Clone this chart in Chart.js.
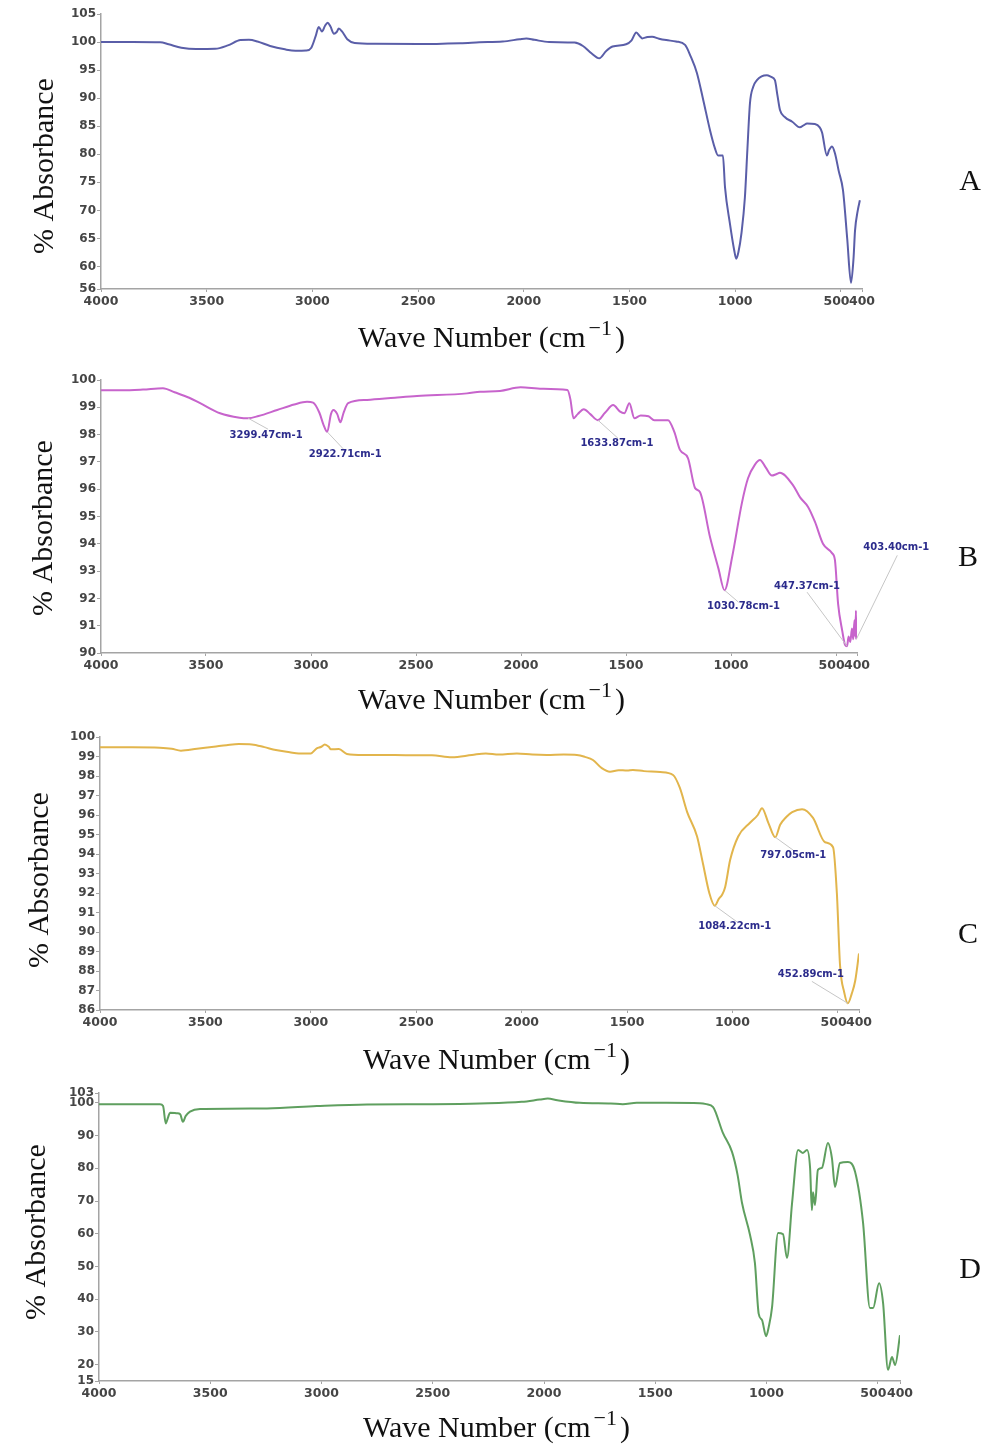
<!DOCTYPE html>
<html>
<head>
<meta charset="utf-8">
<title>FTIR spectra</title>
<script src="https://cdn.jsdelivr.net/npm/chart.js@4.4.0/dist/chart.umd.min.js"></script>
<style>
  body { margin: 0; background: #fff; }
  #wrap { position: relative; width: 998px; height: 1448px; }
  #wrap canvas { position: absolute; left: 0; }
</style>
</head>
<body>
<div id="wrap">
  <canvas id="ftirA" width="998" height="360" style="top:0px"></canvas>
  <canvas id="ftirB" width="998" height="360" style="top:360px"></canvas>
  <canvas id="ftirC" width="998" height="370" style="top:720px"></canvas>
  <canvas id="ftirD" width="998" height="378" style="top:1070px"></canvas>
</div>
<script>
// wavenumber ticks (cm-1), same for every spectrum
var waveTicks = [4000, 3500, 3000, 2500, 2000, 1500, 1000, 500, 400];

// --- spectrum A ---
var waveA = [4000, 3850, 3720, 3680, 3620, 3550, 3460, 3400, 3340, 3300, 3260, 3200, 3130, 3080, 3030, 3005,
  2985, 2970, 2955, 2940, 2928, 2915, 2898, 2885, 2875, 2860, 2835, 2800, 2700, 2500, 2300, 2210, 2100, 2020,
  1988, 1950, 1880, 1760, 1720, 1680, 1643, 1610, 1580, 1516, 1490, 1468, 1450, 1440, 1415, 1393, 1360, 1326,
  1280, 1237, 1210, 1181, 1150, 1119, 1096, 1081, 1058, 1048, 1025, 1005, 995, 985, 970, 954, 942, 930, 915,
  897, 875, 850, 830, 812, 800, 788, 764, 730, 694, 675, 660, 623, 600, 589, 566, 555, 542, 528, 510, 490, 470,
  452, 440, 433, 420, 410];
var absA = [100.0, 100.0, 99.95, 99.6, 99.0, 98.75, 98.8, 99.4, 100.35, 100.4, 100.1, 99.3, 98.7, 98.45, 98.5, 99.0,
  101.0, 102.7, 101.9, 102.9, 103.45, 102.8, 101.5, 101.8, 102.4, 101.9, 100.5, 99.85, 99.7, 99.65, 99.8, 99.95, 100.1, 100.5,
  100.65, 100.4, 100.0, 99.9, 99.3, 98.0, 97.1, 98.4, 99.2, 99.6, 100.3, 101.7, 101.0, 100.65, 100.9, 100.95, 100.6, 100.35,
  100.1, 99.5, 97.4, 94.5, 89.5, 84.3, 81.1, 79.8, 79.8, 74.1, 67.7, 63.0, 61.4, 62.5, 66.0, 72.3, 81.0, 89.1, 92.0,
  93.2, 93.9, 94.1, 93.8, 93.2, 90.5, 87.9, 86.6, 85.8, 84.8, 85.2, 85.5, 85.4, 84.8, 83.9, 79.8, 80.8, 81.4, 80.2, 77.0, 73.6, 65.0,
  57.1, 61.5, 66.4, 70.0, 71.8];
var yTicksA = [56, 60, 65, 70, 75, 80, 85, 90, 95, 100, 105];

// --- spectrum B ---
var waveB = [4000, 3900, 3800, 3705, 3650, 3580, 3528, 3433, 3340, 3299.47, 3250, 3161, 3080, 3019, 2990, 2960,
  2940, 2922.71, 2905, 2893, 2875, 2860, 2845, 2823, 2733, 2600, 2495, 2257, 2195, 2100, 2002, 1900, 1779, 1765,
  1750, 1730, 1701, 1670, 1633.87, 1600, 1561, 1530, 1508, 1484, 1460, 1430, 1393, 1365, 1338, 1300, 1270, 1243,
  1205, 1171, 1148, 1100, 1060, 1030.78, 995, 948, 919, 886, 862, 835, 805, 785, 767, 705, 671, 633, 600, 562, 519,
  505, 490, 470, 457, 447.37, 440, 432, 424, 418, 412, 408, 405, 403.40];
var absB = [99.62, 99.62, 99.65, 99.7, 99.55, 99.35, 99.15, 98.78, 98.62, 98.6, 98.68, 98.9, 99.1, 99.2, 99.17, 98.8,
  98.35, 98.1, 98.75, 98.9, 98.75, 98.45, 98.8, 99.15, 99.27, 99.35, 99.41, 99.51, 99.57, 99.6, 99.73, 99.68, 99.63, 99.3,
  98.6, 98.75, 98.93, 98.75, 98.53, 98.8, 99.08, 98.85, 98.78, 99.15, 98.6, 98.7, 98.67, 98.53, 98.53, 98.53, 98.1, 97.44,
  97.14, 96.04, 95.9, 94.25, 93.1, 92.3, 93.5, 95.5, 96.4, 96.9, 97.07, 96.8, 96.5, 96.55, 96.6, 96.15, 95.7, 95.35, 94.8, 94.0, 93.66,
  93.4, 91.8, 90.8, 90.3, 90.25, 90.6, 90.4, 90.9, 90.5, 91.2, 90.6, 91.55, 90.5];
var yTicksB = [90, 91, 92, 93, 94, 95, 96, 97, 98, 99, 100];
var peaksB = [3299.47, 2922.71, 1633.87, 1030.78, 447.37, 403.40];

// --- spectrum C ---
var waveC = [4000, 3850, 3716, 3660, 3616, 3540, 3460, 3400, 3341, 3280, 3220, 3166, 3100, 3057, 3000, 2972,
  2950, 2934, 2915, 2905, 2867, 2829, 2750, 2663, 2550, 2426, 2331, 2236, 2170, 2108, 2023, 1950, 1881, 1800,
  1738, 1700, 1662, 1620, 1581, 1540, 1500, 1472, 1420, 1343, 1282, 1250, 1215, 1168, 1140, 1110, 1084.22, 1065,
  1050, 1035, 1011, 973, 917, 880, 860, 830, 797.05, 774, 745, 717, 670, 618, 561, 523, 505, 490, 470, 452.89,
  434, 418, 400];
var absC = [99.47, 99.47, 99.45, 99.4, 99.3, 99.4, 99.5, 99.58, 99.64, 99.62, 99.48, 99.33, 99.22, 99.16, 99.16, 99.42,
  99.5, 99.62, 99.5, 99.37, 99.38, 99.13, 99.08, 99.08, 99.07, 99.06, 98.96, 99.08, 99.16, 99.1, 99.16, 99.1, 99.08, 99.1,
  99.08, 98.98, 98.82, 98.4, 98.22, 98.3, 98.28, 98.31, 98.25, 98.2, 98.05, 97.4, 96.15, 94.9, 93.5, 92.0, 91.35, 91.7,
  91.9, 92.3, 93.7, 94.9, 95.6, 96.0, 96.35, 95.6, 94.86, 95.5, 95.9, 96.15, 96.3, 95.85, 94.6, 94.35, 92.0, 88.3, 86.9, 86.34,
  86.85, 87.5, 88.9];
var yTicksC = [86, 87, 88, 89, 90, 91, 92, 93, 94, 95, 96, 97, 98, 99, 100];
var peaksC = [1084.22, 797.05, 452.89];

// --- spectrum D ---
var waveD = [4000, 3726, 3712, 3700, 3690, 3681, 3650, 3635, 3623, 3610, 3591, 3546, 3245, 3021, 2796, 2500,
  2288, 2100, 2019, 1983, 1940, 1839, 1700, 1646, 1583, 1450, 1299, 1270, 1240, 1196, 1155, 1130, 1110, 1074,
  1052, 1035, 1020, 1002, 990, 975, 948, 926, 908, 885, 858, 836, 818, 804, 796, 791, 782, 769, 751, 724, 706,
  692, 670, 634, 602, 566, 535, 521, 494, 476, 454, 436, 422, 400];
var absD = [99.6, 99.6, 99.0, 93.7, 95.5, 97.0, 96.8, 96.5, 94.2, 96.0, 97.3, 98.1, 98.3, 99.0, 99.5, 99.6,
  99.8, 100.3, 101.0, 101.3, 100.8, 100.0, 99.8, 99.6, 100.0, 100.0, 99.9, 99.6, 98.7, 90.8, 85.0, 78.0, 69.4, 59.6,
  51.0, 35.5, 33.6, 28.7, 31.5, 37.6, 60.2, 59.9, 52.6, 69.4, 85.6, 84.7, 85.6, 80.0, 67.2, 72.7, 68.8, 79.5, 80.1, 87.7, 83.1,
  74.3, 81.6, 81.9, 78.9, 63.3, 37.3, 37.3, 44.9, 38.8, 18.4, 22.3, 19.9, 29.0];
var yTicksD = [15, 20, 30, 40, 50, 60, 70, 80, 90, 100, 103];

// layout of each panel inside its canvas; call-out offsets are [labelDx, labelDy, leaderDx, leaderDy]
var panels = [
  { id: 'ftirA', letter: 'A', wave: waveA, abs: absA, yTicks: yTicksA, color: '#5a5ea8',
    area: { left: 101, right: 862, top: 14, bottom: 289 },
    xTitle: [358, 347], yTitle: [45, 166], letterPos: [970, 190] },
  { id: 'ftirB', letter: 'B', wave: waveB, abs: absB, yTicks: yTicksB, color: '#c764cc',
    area: { left: 101, right: 857, top: 20, bottom: 293 },
    xTitle: [358, 349], yTitle: [44, 168], letterPos: [968, 206],
    peaks: peaksB,
    peakOffsets: [[18, 17, 20, 11], [18, 23, 16, 17], [19, 23, 20, 18], [19, 16, 14, 12], [-40, -60, -40, -54], [40, -92, 41, -84]] },
  { id: 'ftirC', letter: 'C', wave: waveC, abs: absC, yTicks: yTicksC, color: '#e2b54c',
    area: { left: 100, right: 859, top: 17, bottom: 290 },
    xTitle: [363, 349], yTitle: [40, 160], letterPos: [968, 223],
    peaks: peaksC,
    peakOffsets: [[20, 21, 22, 16], [18, 18, 18, 13], [-37, -29, -36, -22]] },
  { id: 'ftirD', letter: 'D', wave: waveD, abs: absD, yTicks: yTicksD, color: '#5f9f5f',
    area: { left: 99, right: 900, top: 23, bottom: 311 },
    xTitle: [363, 367], yTitle: [37, 162], letterPos: [970, 208] }
];

var serif = '"Liberation Serif", "Times New Roman", serif';
var tickFont = 'DejaVu Sans';
var axisGray = '#a4a4a4';

// axis titles, panel letter and peak call-outs
function spectrumDecor(p) {
  return {
    id: 'spectrumDecor',
    afterDraw: function (chart) {
      var ctx = chart.ctx;
      var xs = chart.scales.x, ys = chart.scales.y;
      ctx.save();

      if (p.peaks) {
        ctx.font = 'bold 10px "' + tickFont + '"';
        ctx.textAlign = 'center';
        ctx.textBaseline = 'middle';
        p.peaks.forEach(function (w, i) {
          var k = p.wave.indexOf(w);
          var px = xs.getPixelForValue(w);
          var py = ys.getPixelForValue(p.abs[k]);
          var o = p.peakOffsets[i];
          ctx.strokeStyle = '#c6c6c6';
          ctx.lineWidth = 1;
          ctx.beginPath();
          ctx.moveTo(px, py);
          ctx.lineTo(px + o[2], py + o[3]);
          ctx.stroke();
          ctx.fillStyle = '#2c2c8c';
          ctx.fillText(w.toFixed(2) + 'cm-1', px + o[0], py + o[1]);
        });
      }

      ctx.fillStyle = '#111';
      ctx.font = '30px ' + serif;
      ctx.save();
      ctx.translate(p.yTitle[0], p.yTitle[1]);
      ctx.rotate(-Math.PI / 2);
      ctx.textAlign = 'center';
      ctx.textBaseline = 'middle';
      ctx.fillText('% Absorbance', 0, 0);
      ctx.restore();

      // Wave Number (cm^-1)
      var x = p.xTitle[0], y = p.xTitle[1];
      ctx.textAlign = 'left';
      ctx.textBaseline = 'alphabetic';
      ctx.fillText('Wave Number (cm', x, y);
      x += ctx.measureText('Wave Number (cm').width + 3;
      ctx.font = '22px ' + serif;
      ctx.fillText('\u22121', x, y - 12);
      x += ctx.measureText('\u22121').width + 3;
      ctx.font = '30px ' + serif;
      ctx.fillText(')', x, y);

      ctx.textAlign = 'center';
      ctx.fillText(p.letter, p.letterPos[0], p.letterPos[1]);
      ctx.restore();
    }
  };
}

panels.forEach(function (p) {
  var canvas = document.getElementById(p.id);
  var W = canvas.width, H = canvas.height;
  var pts = p.wave.map(function (w, i) { return { x: w, y: p.abs[i] }; });

  new Chart(canvas.getContext('2d'), {
    type: 'line',
    data: {
      datasets: [{
        data: pts,
        borderColor: p.color,
        borderWidth: 2,
        pointRadius: 0,
        fill: false,
        cubicInterpolationMode: 'monotone'
      }]
    },
    options: {
      responsive: false,
      animation: false,
      layout: { padding: { left: 0, top: p.area.top, right: W - p.area.right, bottom: 0 } },
      plugins: { legend: { display: false }, tooltip: { enabled: false } },
      scales: {
        x: {
          type: 'linear',
          reverse: true,
          min: 400,
          max: 4000,
          afterBuildTicks: function (s) { s.ticks = waveTicks.map(function (v) { return { value: v }; }); },
          afterFit: function (s) { s.height = H - p.area.bottom; },
          border: { display: true, color: axisGray, width: 1.5 },
          grid: { drawOnChartArea: false, drawTicks: true, tickLength: 3, color: axisGray },
          ticks: {
            autoSkip: false, maxRotation: 0, minRotation: 0, padding: 2,
            color: '#454545',
            font: { family: tickFont, size: 12.5, weight: 'bold' },
            callback: function (v) { return v === 500 ? '500  ' : String(v); }
          }
        },
        y: {
          min: p.yTicks[0],
          max: p.yTicks[p.yTicks.length - 1],
          afterBuildTicks: function (s) { s.ticks = p.yTicks.map(function (v) { return { value: v }; }); },
          afterFit: function (s) { s.width = p.area.left; },
          border: { display: true, color: axisGray, width: 1.5 },
          grid: { drawOnChartArea: false, drawTicks: true, tickLength: 4, color: axisGray },
          ticks: {
            padding: 1,
            color: '#454545',
            font: { family: tickFont, size: 12, weight: 'bold' },
            callback: function (v) { return String(v); }
          }
        }
      }
    },
    plugins: [spectrumDecor(p)]
  });
});
</script>
</body>
</html>
